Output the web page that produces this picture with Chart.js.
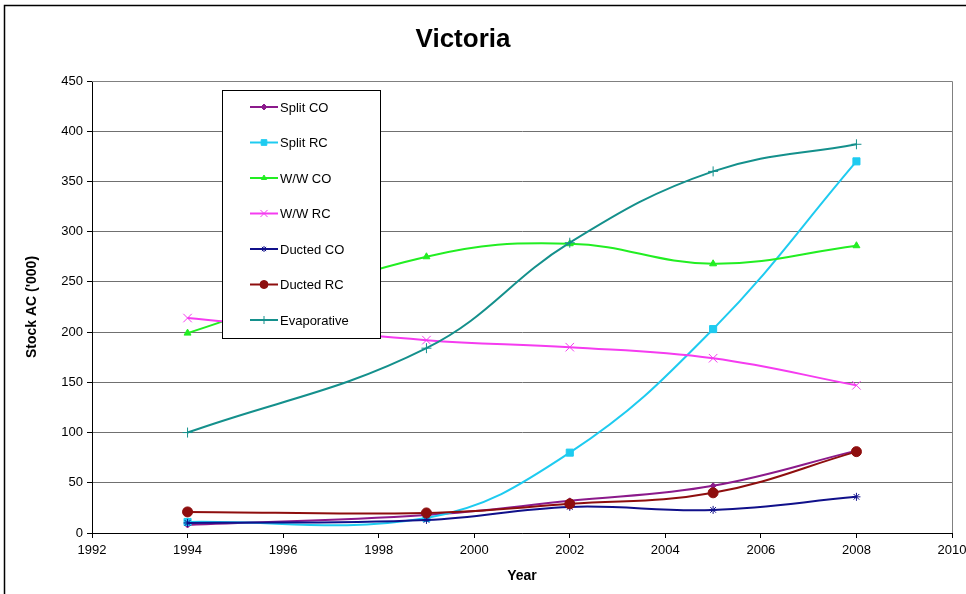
<!DOCTYPE html>
<html>
<head>
<meta charset="utf-8">
<title>Victoria</title>
<script src="https://cdn.jsdelivr.net/npm/chart.js@4.4.1/dist/chart.umd.min.js"></script>
<style>
  html, body { margin: 0; padding: 0; background: #fff; overflow: hidden; }
  .wrap { width: 966px; height: 594px; overflow: hidden; position: relative; }
  canvas { display: block; }
</style>
</head>
<body>
<div class="wrap">
  <canvas id="stockChart" width="1000" height="594"></canvas>
</div>
<script>
// Survey years
const years = [1994, 1999, 2002, 2005, 2008];

// Stock of air conditioners ('000) per type
const splitCO = [8, 18, 32, 47, 82];
const splitRC = [11, 15, 80, 203, 370];
const wwCO = [199, 275, 288, 268, 286];
const wwRC = [214, 192, 185, 174, 147];
const ductedCO = [10, 13, 26, 23, 36];
const ductedRC = [21, 20, 29, 40, 81];
const evaporative = [100, 184, 289, 360, 387];

const seriesNames = ['Split CO', 'Split RC', 'W/W CO', 'W/W RC', 'Ducted CO', 'Ducted RC', 'Evaporative'];
const seriesValues = [splitCO, splitRC, wwCO, wwRC, ductedCO, ductedRC, evaporative];
const seriesColors = ['#8B1A8B', '#1ECBF0', '#22EE22', '#F53CF0', '#10108A', '#8E0E0E', '#14908C'];
const seriesMarkers = ['rectRot', 'rect', 'triangle', 'crossRot', 'star', 'circle', 'cross'];
const markerSizes = [3, 5, 4, 6, 4, 5, 5];

const font = "'Liberation Sans', Arial, sans-serif";

const datasets = seriesNames.map((name, i) => ({
    label: name,
    data: years.map((yr, j) => ({ x: yr, y: seriesValues[i][j] })),
    borderColor: seriesColors[i],
    backgroundColor: seriesColors[i],
    borderWidth: 2,
    pointStyle: seriesMarkers[i],
    pointRadius: markerSizes[i],
    pointBorderWidth: 1,
    tension: 0.4,
    fill: false,
    order: seriesNames.length - i // later series on top
}));

// Frame around the whole chart, plot-area border and the title
const framePlugin = {
    id: 'frame',
    beforeDraw(chart) {
        const ctx = chart.ctx;
        ctx.save();
        ctx.fillStyle = '#fff';
        ctx.fillRect(0, 0, chart.width, chart.height);
        ctx.strokeStyle = '#000';
        ctx.lineWidth = 1.5;
        ctx.strokeRect(4.5, 5.5, chart.width, chart.height);
        ctx.fillStyle = '#000';
        ctx.font = 'bold 26px ' + font;
        ctx.textAlign = 'center';
        ctx.textBaseline = 'middle';
        ctx.fillText('Victoria', 463, 40);
        ctx.restore();
    },
    beforeDatasetsDraw(chart) {
        const a = chart.chartArea;
        const ctx = chart.ctx;
        ctx.save();
        ctx.strokeStyle = '#808080';
        ctx.lineWidth = 1;
        ctx.beginPath();
        ctx.moveTo(a.left, Math.round(a.top) + 0.5);
        ctx.lineTo(Math.round(a.right) + 0.5, Math.round(a.top) + 0.5);
        ctx.lineTo(Math.round(a.right) + 0.5, a.bottom);
        ctx.stroke();
        ctx.restore();
    }
};

// Legend box drawn inside the plot area
const boxLegend = {
    id: 'boxLegend',
    afterDraw(chart) {
        const ctx = chart.ctx;
        const left = 222, top = 90, w = 158, h = 248;
        ctx.save();
        ctx.fillStyle = '#fff';
        ctx.fillRect(left, top, w, h);
        ctx.strokeStyle = '#000';
        ctx.lineWidth = 1;
        ctx.strokeRect(left + 0.5, top + 0.5, w, h);
        ctx.font = '13px ' + font;
        ctx.textBaseline = 'middle';
        chart.data.datasets.forEach((ds, i) => {
            const y = top + 17 + i * 35.5;
            ctx.strokeStyle = ds.borderColor;
            ctx.lineWidth = 2;
            ctx.beginPath();
            ctx.moveTo(250, y);
            ctx.lineTo(278, y);
            ctx.stroke();
            ctx.fillStyle = ds.backgroundColor;
            ctx.strokeStyle = ds.borderColor;
            ctx.lineWidth = 1;
            Chart.helpers.drawPoint(ctx, {
                pointStyle: ds.pointStyle,
                radius: Math.max(3, ds.pointRadius - 1),
                borderWidth: 1,
                rotation: 0
            }, 264, y);
            ctx.fillStyle = '#000';
            ctx.fillText(ds.label, 280, y + 1);
        });
        ctx.restore();
    }
};

new Chart(document.getElementById('stockChart'), {
    type: 'line',
    data: { datasets },
    options: {
        responsive: false,
        animation: false,
        layout: { padding: { top: 81, left: 22, right: 48, bottom: 0 } },
        plugins: {
            legend: { display: false },
            tooltip: { enabled: false },
            title: { display: false }
        },
        scales: {
            x: {
                type: 'linear',
                min: 1992,
                max: 2010,
                afterFit(scale) { scale.height = 61; },
                ticks: {
                    stepSize: 2,
                    color: '#000',
                    padding: 5,
                    maxRotation: 0,
                    font: { family: font, size: 13 },
                    callback: v => String(v)
                },
                grid: {
                    drawOnChartArea: false,
                    drawTicks: true,
                    tickLength: 5,
                    color: '#000'
                },
                border: { color: '#000', width: 1 },
                title: {
                    display: true,
                    text: 'Year',
                    color: '#000',
                    font: { family: font, size: 14, weight: 'bold' },
                    padding: { top: 4, bottom: 9 }
                }
            },
            y: {
                min: 0,
                max: 450,
                afterFit(scale) { scale.width = 70; },
                ticks: {
                    stepSize: 50,
                    color: '#000',
                    padding: 4,
                    font: { family: font, size: 13 }
                },
                grid: {
                    color: '#707070',
                    tickLength: 5,
                    tickColor: '#000'
                },
                border: { color: '#000', width: 1 },
                title: {
                    display: true,
                    text: "Stock AC ('000)",
                    color: '#000',
                    font: { family: font, size: 14, weight: 'bold' },
                    padding: { top: 2, bottom: 0 }
                }
            }
        }
    },
    plugins: [framePlugin, boxLegend]
});
</script>
</body>
</html>
